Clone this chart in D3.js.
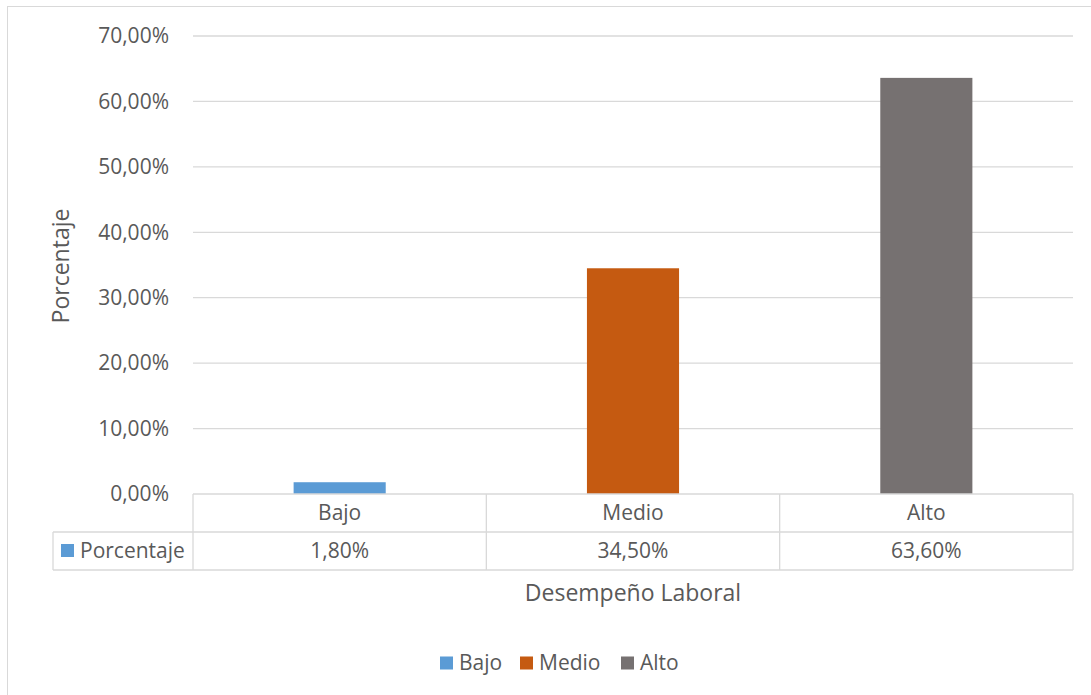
<!DOCTYPE html>
<html><head><meta charset="utf-8">
<script src="https://cdn.jsdelivr.net/npm/d3@7"></script>
<style>body{margin:0;background:#fff}svg{display:block}text{font-family:"Open Sans",sans-serif;fill:#595959}</style>
</head><body><svg id="c" width="1091" height="695"></svg>
<script>
const categories = ["Bajo","Medio","Alto"];
const values = [1.8, 34.5, 63.6];
const valueLabels = ["1,80%","34,50%","63,60%"];
const colors = ["#5B9BD5","#C55A11","#767171"];
const yTicks = [0,10,20,30,40,50,60,70];
const seriesName = "Porcentaje";
const xTitle = "Desempeño Laboral";
const yTitle = "Porcentaje";

const svg = d3.select("#c");
svg.append("rect").attr("x",7.5).attr("y",6.5).attr("width",1100).attr("height",700)
  .attr("fill","#fff").attr("stroke","#D9D9D9");

const L=193, R=1073, T=36, B=494;
const FS = 21;
const x = d3.scaleBand().domain(categories).range([L,R]).paddingInner(0.686).paddingOuter(0.343);
const xc = d3.scaleBand().domain(categories).range([L,R]);
const y = d3.scaleLinear().domain([0,70]).range([B,T]);

svg.append("g").selectAll("line").data(yTicks.filter(d=>d>0)).join("line")
  .attr("x1",L).attr("x2",R).attr("y1",d=>y(d)).attr("y2",d=>y(d))
  .attr("stroke","#D9D9D9").attr("stroke-width",1.3);

svg.append("g").selectAll("text").data(yTicks).join("text")
  .attr("x",169).attr("y",d=>y(d)).attr("dy","0.35em").attr("text-anchor","end")
  .attr("font-size",FS).text(d=>d3.format(".2f")(d).replace(".",",")+"%");

svg.append("g").selectAll("rect").data(values).join("rect")
  .attr("x",(d,i)=>x(categories[i])).attr("width",x.bandwidth())
  .attr("y",d=>y(d)).attr("height",d=>B-y(d)).attr("fill",(d,i)=>colors[i]);

// data table
const rowH = 38, tL = 53;
const g = svg.append("g").attr("stroke","#D9D9D9").attr("stroke-width",1.3);
g.append("line").attr("x1",L).attr("x2",R).attr("y1",B).attr("y2",B);
g.append("line").attr("x1",tL).attr("x2",R).attr("y1",B+rowH).attr("y2",B+rowH);
g.append("line").attr("x1",tL).attr("x2",R).attr("y1",B+2*rowH).attr("y2",B+2*rowH);
g.append("line").attr("x1",tL).attr("x2",tL).attr("y1",B+rowH).attr("y2",B+2*rowH);
g.selectAll("line.v").data(categories).join("line").attr("class","v")
  .attr("x1",d=>xc(d)).attr("x2",d=>xc(d)).attr("y1",B).attr("y2",B+2*rowH);
g.append("line").attr("x1",R).attr("x2",R).attr("y1",B).attr("y2",B+2*rowH);

svg.append("g").selectAll("text").data(categories).join("text")
  .attr("x",d=>xc(d)+xc.bandwidth()/2).attr("y",B+rowH/2).attr("dy","0.35em")
  .attr("text-anchor","middle").attr("font-size",FS).text(d=>d);
svg.append("g").selectAll("text").data(valueLabels).join("text")
  .attr("x",(d,i)=>xc(categories[i])+xc.bandwidth()/2).attr("y",B+rowH*1.5).attr("dy","0.35em")
  .attr("text-anchor","middle").attr("font-size",FS).text(d=>d);
svg.append("rect").attr("x",61).attr("y",544).attr("width",13).attr("height",13).attr("fill",colors[0]);
svg.append("text").attr("x",80).attr("y",B+rowH*1.5).attr("dy","0.35em").attr("font-size",FS).text(seriesName);

svg.append("text").attr("x",633).attr("y",593).attr("dy","0.35em").attr("text-anchor","middle")
  .attr("font-size",23).text(xTitle);
svg.append("text").attr("transform","translate(61,266) rotate(-90)").attr("dy","0.35em")
  .attr("text-anchor","middle").attr("font-size",23).text(yTitle);

// legend
const lx = [440,520,621];
const lg = svg.append("g").selectAll("g").data(categories).join("g")
  .attr("transform",(d,i)=>`translate(${lx[i]},663)`);
lg.append("rect").attr("x",0).attr("y",-6.5).attr("width",13).attr("height",13).attr("fill",(d,i)=>colors[i]);
lg.append("text").attr("x",19).attr("dy","0.35em").attr("font-size",FS).text(d=>d);
</script></body></html>
